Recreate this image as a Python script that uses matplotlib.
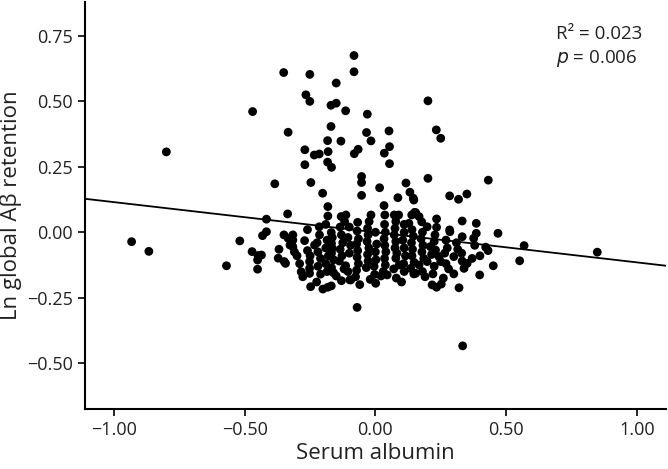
import matplotlib
matplotlib.use("Agg")
import matplotlib.pyplot as plt

plt.rcParams['font.family'] = ['Open Sans', 'DejaVu Sans']

# serum albumin (x) vs ln global A-beta retention (y)
pts = [
    # sparse / outlying points
    (-0.933, -0.036), (-0.867, -0.073), (-0.800, 0.307), (-0.570, -0.128),
    (-0.519, -0.033), (-0.470, 0.461), (-0.472, -0.074), (-0.449, -0.089),
    (-0.436, -0.087), (-0.451, -0.106), (-0.451, -0.141), (-0.432, -0.013),
    (-0.417, 0.050), (-0.417, 0.002), (-0.385, 0.185), (-0.351, 0.610),
    (-0.334, 0.382), (-0.336, 0.070), (-0.350, -0.010), (-0.334, -0.023),
    (-0.369, -0.065), (-0.372, -0.099), (-0.349, -0.112), (-0.344, -0.119),
    (-0.327, -0.049), (-0.316, -0.010), (-0.316, -0.030), (-0.316, -0.055),
    (-0.270, 0.315), (-0.270, 0.258), (-0.266, 0.525), (-0.251, 0.500),
    (-0.251, 0.603), (-0.247, 0.190), (-0.234, 0.295), (-0.215, 0.299),
    (-0.202, 0.149), (-0.183, 0.350), (-0.183, 0.268), (-0.168, 0.248),
    (-0.181, 0.308), (-0.170, 0.485), (-0.170, 0.404), (-0.182, 0.098),
    (-0.182, 0.062), (-0.215, 0.021), (-0.214, -0.010), (-0.271, -0.032),
    (-0.233, -0.049), (-0.223, -0.040), (-0.252, -0.112), (-0.252, -0.138),
    (-0.252, -0.157), (-0.284, -0.151), (-0.278, -0.170), (-0.248, -0.208),
    (-0.201, -0.217), (-0.182, -0.210), (-0.169, -0.205), (-0.150, -0.167),
    (-0.082, 0.675), (-0.082, 0.613), (-0.150, 0.570), (-0.150, 0.493),
    (-0.114, 0.464), (-0.031, 0.451), (-0.034, 0.381), (-0.017, 0.349),
    (-0.132, 0.348), (-0.081, 0.300), (-0.066, 0.317), (-0.053, 0.213),
    (-0.053, 0.190), (-0.053, 0.141), (-0.131, 0.060), (-0.118, 0.041),
    (-0.169, -0.001), (0.201, 0.502), (0.052, 0.387), (0.233, 0.391),
    (0.250, 0.359), (0.054, 0.327), (0.034, 0.302), (0.054, 0.262),
    (0.201, 0.206), (0.432, 0.199), (0.016, 0.170), (0.117, 0.188),
    (0.132, 0.153), (0.086, 0.132), (0.145, 0.130), (0.284, 0.139),
    (0.318, 0.126), (0.350, 0.146), (0.147, 0.123), (0.033, 0.102),
    (0.150, 0.076), (0.332, 0.043), (0.386, 0.034), (0.234, 0.051),
    (0.469, -0.004), (0.386, -0.004), (0.284, 0.009), (0.332, -0.017),
    (0.569, -0.051), (0.849, -0.076), (0.552, -0.109), (0.451, -0.128),
    (0.399, -0.163), (0.431, -0.070), (0.422, -0.057), (0.351, -0.119),
    (0.339, -0.138), (0.332, -0.110), (0.300, -0.093), (0.300, -0.159),
    (0.320, -0.212), (0.217, -0.201), (0.234, -0.210), (0.252, -0.198),
    (0.220, -0.159), (0.334, -0.434), (-0.070, -0.287), (0.001, -0.195),
    (-0.098, -0.182), (-0.076, -0.170), (-0.003, -0.161), (0.045, -0.163),
    (0.147, -0.159), (-0.114, -0.128), (-0.113, 0.066), (-0.017, 0.066),
    (-0.024, 0.041), (-0.068, 0.038), (0.072, 0.066), (0.089, 0.066),
    (0.078, 0.041), (0.021, -0.167), (-0.094, -0.182), (0.078, -0.099),
    (0.091, -0.125), (0.154, 0.075), (0.167, 0.060), (0.128, 0.034),
    (0.234, 0.019), (0.198, 0.021), (0.285, 0.002), (0.230, -0.068),
    (0.243, -0.093), (0.250, -0.112), (0.167, -0.125), (0.198, -0.112),
    (0.135, -0.138), (0.154, -0.157), (0.376, -0.023),
    # dense band around zero
    (-0.300, -0.090), (-0.290, -0.120), (-0.310, -0.075),
    (-0.260, -0.070), (-0.250, -0.090), (-0.260, 0.010),
    (-0.220, -0.075), (-0.210, -0.100), (-0.220, -0.130), (-0.210, -0.160),
    (-0.225, -0.190),
    (-0.190, 0.030), (-0.185, -0.030), (-0.190, -0.060), (-0.180, -0.090),
    (-0.190, -0.120), (-0.185, -0.150),
    (-0.168, -0.043), (-0.165, -0.062), (-0.168, -0.080), (-0.160, -0.105),
    (-0.168, -0.135), (-0.160, -0.155), (-0.165, -0.020),
    (-0.135, 0.020), (-0.130, -0.010), (-0.125, -0.040), (-0.135, -0.065),
    (-0.128, -0.090), (-0.138, -0.110), (-0.120, -0.140), (-0.130, -0.185),
    (-0.100, 0.020), (-0.105, -0.020), (-0.095, -0.050), (-0.100, -0.080),
    (-0.105, -0.150),
    (-0.070, 0.005), (-0.065, -0.025), (-0.072, -0.045), (-0.068, -0.070),
    (-0.070, -0.095), (-0.065, -0.120), (-0.072, -0.145), (-0.060, -0.200),
    (-0.030, 0.015), (-0.028, -0.010), (-0.032, -0.035), (-0.025, -0.060),
    (-0.030, -0.085), (-0.028, -0.110), (-0.035, -0.135), (-0.020, -0.180),
    (0.000, 0.000), (0.005, -0.045), (0.000, -0.075), (0.002, -0.105),
    (-0.005, -0.130),
    (0.036, 0.066), (0.035, 0.030), (0.038, 0.000), (0.033, -0.025),
    (0.036, -0.050), (0.040, -0.075), (0.035, -0.100), (0.038, -0.125),
    (0.030, -0.150),
    (0.075, 0.015), (0.072, -0.010), (0.078, -0.035), (0.075, -0.060),
    (0.082, -0.080), (0.070, -0.140), (0.080, -0.175),
    (0.110, 0.030), (0.110, 0.000), (0.105, -0.030), (0.110, -0.060),
    (0.115, -0.090), (0.108, -0.120), (0.110, -0.150), (0.100, -0.190),
    (0.139, 0.066), (0.140, 0.010), (0.145, -0.015), (0.138, -0.040),
    (0.142, -0.065), (0.140, -0.090), (0.148, -0.115),
    (0.177, 0.040), (0.180, 0.000), (0.175, -0.025), (0.182, -0.050),
    (0.178, -0.075), (0.185, -0.100), (0.180, -0.150), (0.190, -0.170),
    (0.228, -0.010), (0.225, -0.035), (0.210, -0.055), (0.225, -0.130),
    (0.215, -0.085),
    (0.270, -0.030), (0.275, -0.060), (0.265, -0.080), (0.270, -0.120),
    (0.280, -0.140), (0.260, -0.175),
    (0.310, -0.040), (0.315, -0.065), (0.330, -0.080),
    (0.380, -0.050), (0.400, -0.090), (0.370, -0.100),
]
albumin = [p[0] for p in pts]
ab_retention = [p[1] for p in pts]

fit_slope = -0.115
fit_intercept = 0.0
r2_text = "R\u00b2 = 0.023"
p_text = "$\\it{p}$ = 0.006"

xticks = [-1.0, -0.5, 0.0, 0.5, 1.0]
yticks = [-0.5, -0.25, 0.0, 0.25, 0.5, 0.75]

fig = plt.figure(figsize=(6.68, 4.69), dpi=100)
ax = fig.add_axes([0.127, 0.128, 0.87, 0.868])

ax.scatter(albumin, ab_retention, s=40, color='black', edgecolors='none', zorder=3)
ax.axline((0, fit_intercept), slope=fit_slope, color='black', lw=1.3, zorder=2)

ax.set_xlim(-1.112, 1.112)
ax.set_ylim(-0.675, 0.88)
ax.set_xticks(xticks)
ax.set_yticks(yticks)
ax.set_xticklabels([f"{v:.2f}".replace('-', '\u2212') for v in xticks])
ax.set_yticklabels([f"{v:.2f}".replace('-', '\u2212') for v in yticks])

for side in ['top', 'right']:
    ax.spines[side].set_visible(False)
for side in ['left', 'bottom']:
    ax.spines[side].set_linewidth(1.5)
ax.tick_params(direction='out', length=5, width=1.2, labelsize=13, colors='black',
               labelcolor='#222222')

ax.set_xlabel("Serum albumin", fontsize=16, color='#222222', labelpad=3)
ax.set_ylabel("Ln global A\u03b2 retention", fontsize=16, color='#222222', labelpad=4)

ax.text(0.81, 0.92, r2_text, transform=ax.transAxes, fontsize=13.5, va='center',
        color='#222222')
ax.text(0.81, 0.86, p_text, transform=ax.transAxes, fontsize=13.5, va='center',
        color='#222222')

fig.savefig("out.png", dpi=100)
